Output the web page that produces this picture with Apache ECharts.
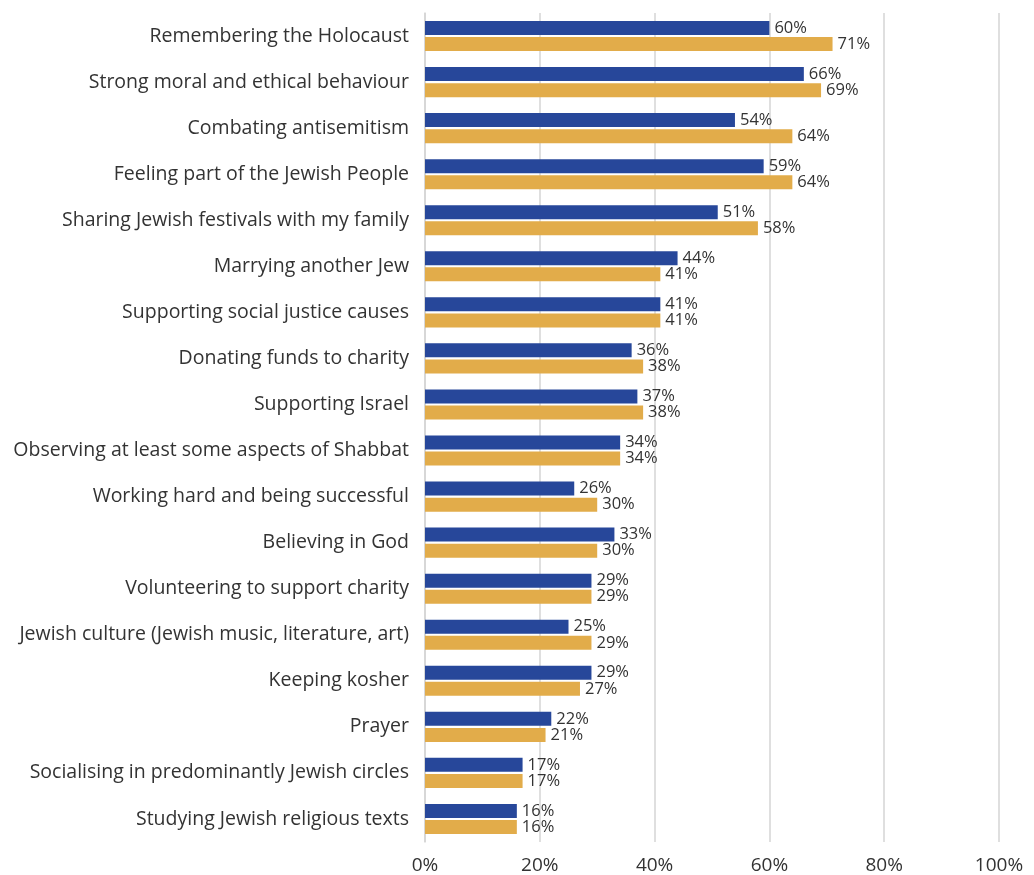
<!DOCTYPE html>
<html>
<head>
<meta charset="utf-8">
<script src="https://cdn.jsdelivr.net/npm/echarts@6/dist/echarts.min.js"></script>
<style>
  html, body { margin: 0; padding: 0; background: #fff; }
  #chart { width: 1034px; height: 875px; }
</style>
</head>
<body>
<div id="chart"></div>
<script>
// Importance of aspects of Jewish identity, two survey groups
const categories = [
  'Remembering the Holocaust',
  'Strong moral and ethical behaviour',
  'Combating antisemitism',
  'Feeling part of the Jewish People',
  'Sharing Jewish festivals with my family',
  'Marrying another Jew',
  'Supporting social justice causes',
  'Donating funds to charity',
  'Supporting Israel',
  'Observing at least some aspects of Shabbat',
  'Working hard and being successful',
  'Believing in God',
  'Volunteering to support charity',
  'Jewish culture (Jewish music, literature, art)',
  'Keeping kosher',
  'Prayer',
  'Socialising in predominantly Jewish circles',
  'Studying Jewish religious texts'
];
const seriesA = [60, 66, 54, 59, 51, 44, 41, 36, 37, 34, 26, 33, 29, 25, 29, 22, 17, 16];
const seriesB = [71, 69, 64, 64, 58, 41, 41, 38, 38, 34, 30, 30, 29, 29, 27, 21, 17, 16];
const xTicks = [0, 20, 40, 60, 80, 100];

const FONT = '"Open Sans", "Noto Sans", sans-serif';

const chart = echarts.init(document.getElementById('chart'), null, { renderer: 'canvas' });

const labelStyle = {
  show: true,
  position: 'right',
  distance: 5,
  formatter: p => p.value + '%',
  color: '#333',
  fontSize: 16.5,
  fontFamily: FONT
};

chart.setOption({
  animation: false,
  grid: { left: 425, right: 35, top: 13, bottom: 33, containLabel: false },
  xAxis: {
    type: 'value',
    min: xTicks[0],
    max: xTicks[xTicks.length - 1],
    interval: 20,
    axisLine: { show: false },
    axisTick: { show: false },
    splitLine: { show: true, lineStyle: { color: '#d4d4d4', width: 1.5 } },
    axisLabel: {
      formatter: v => v + '%',
      color: '#333',
      fontSize: 19,
      fontFamily: FONT,
      margin: 14
    }
  },
  yAxis: {
    type: 'category',
    data: categories,
    inverse: true,
    axisLine: { show: true, lineStyle: { color: '#d4d4d4', width: 1.5 } },
    axisTick: { show: false },
    axisLabel: {
      color: '#333',
      fontSize: 19.5,
      fontFamily: FONT,
      margin: 16
    }
  },
  series: [
    {
      type: 'bar',
      data: seriesA,
      barWidth: 14,
      barGap: '15%',
      itemStyle: { color: '#27479A' },
      label: labelStyle
    },
    {
      type: 'bar',
      data: seriesB,
      barWidth: 14,
      barGap: '15%',
      itemStyle: { color: '#E2AC4A' },
      label: labelStyle
    }
  ]
});
</script>
</body>
</html>
